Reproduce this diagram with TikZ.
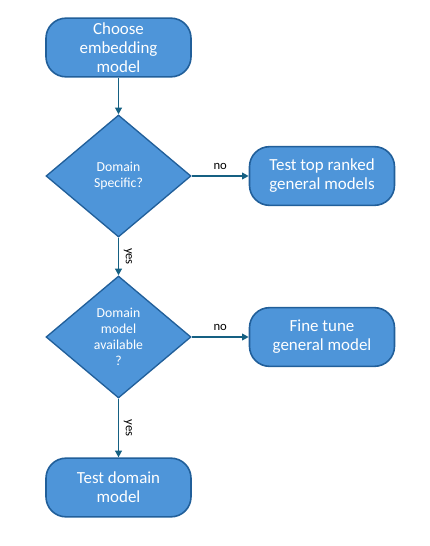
\documentclass[tikz,border=0pt]{standalone}
\usepackage{fontspec}
\setmainfont{Carlito}
\usetikzlibrary{shapes.geometric,arrows.meta}
\definecolor{boxfill}{HTML}{4E95D9}
\definecolor{boxline}{HTML}{215F9A}
\definecolor{arrowcol}{HTML}{156082}
\tikzset{
  procbox/.style={draw=boxline, line width=1.2pt, fill=boxfill, rounded corners=15pt,
    minimum width=108.75pt, minimum height=44pt, text=white, align=center,
    font=\fontsize{12.7}{14.25}\selectfont, inner sep=1pt},
  decide/.style={draw=boxline, line width=1pt, fill=boxfill, diamond, aspect=1.19,
    minimum width=108.75pt, minimum height=91.5pt, inner sep=0pt, text=white, align=center,
    font=\fontsize{10.3}{12}\selectfont},
  conn/.style={draw=arrowcol, line width=1.3pt, -{Triangle[width=5pt,length=5pt]}},
  lbl/.style={font=\fontsize{9.5}{10}\selectfont, text=black}
}
\begin{document}
\begin{tikzpicture}[x=0.75pt,y=-0.75pt]
\useasboundingbox (0,0) rectangle (429,546);
\node[procbox] (start) at (118.5,47.5) {Choose\\embedding\\model};
\node[decide] (d1) at (118.5,176) {Domain\\Specific?};
\node[procbox] (gen) at (322,176) {Test top ranked\\general models};
\node[decide] (d2) at (118.5,337) {Domain\\model\\available\\?};
\node[procbox] (fine) at (322,337) {Fine tune\\general model};
\node[procbox] (dom) at (118.5,487.5) {Test domain\\model};
\draw[conn] (start) -- (d1.north);
\draw[conn] (d1.east) -- node[lbl, above=1pt] (no1) {no} (gen.west);
\draw[conn] (d1.south) -- node[lbl, rotate=-90, anchor=south] (yes1) {yes} (d2.north);
\draw[conn] (d2.east) -- node[lbl, above=1pt] (no2) {no} (fine.west);
\draw[conn] (d2.south) -- node[lbl, rotate=-90, anchor=south] (yes2) {yes} (dom.north);
\end{tikzpicture}
\end{document}
